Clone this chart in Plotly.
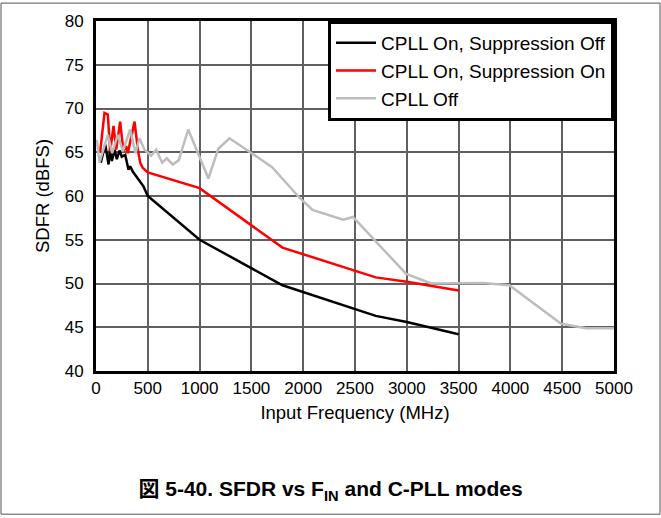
import plotly.graph_objects as go

# ---- data ----
freq_black = [46, 89, 121, 137, 153, 179, 201, 227, 249, 282, 314, 330, 355, 458, 500, 1000, 1800, 2700, 3000, 3500]
sfdr_black = [63.8, 65.9, 63.6, 65.5, 64.0, 65.3, 64.2, 65.2, 64.5, 64.7, 63.0, 63.4, 62.8, 61.1, 60.0, 55.0, 49.8, 46.3, 45.6, 44.2]

freq_red = [40, 82, 114, 137, 169, 195, 233, 265, 291, 307, 372, 404, 427, 452, 500, 1000, 1800, 2700, 3000, 3500]
sfdr_red = [65.0, 69.5, 69.3, 65.1, 68.0, 65.3, 68.5, 65.1, 65.7, 64.9, 68.5, 65.3, 63.8, 63.2, 62.7, 60.9, 54.1, 50.7, 50.2, 49.2]

freq_gray = [8, 34, 114, 156, 210, 259, 330, 381, 420, 468, 533, 581, 639, 683, 741, 799, 890, 1085, 1180, 1289,
             1700, 1770, 1964, 2090, 2385, 2480, 2994, 3236, 3500, 3734, 3990, 4490, 4732, 5000]
sfdr_gray = [66.4, 63.8, 67.0, 64.9, 67.0, 65.1, 67.6, 64.9, 66.6, 65.3, 64.6, 65.3, 63.8, 64.3, 63.6, 64.1, 67.6, 62.0, 65.4, 66.6,
             63.3, 62.4, 59.8, 58.4, 57.3, 57.6, 51.1, 50.0, 50.0, 50.05, 49.8, 45.4, 44.9, 44.9]

series_names = ["CPLL On, Suppression Off", "CPLL On, Suppression On", "CPLL Off"]
x_ticks = [0, 500, 1000, 1500, 2000, 2500, 3000, 3500, 4000, 4500, 5000]
y_ticks = [40, 45, 50, 55, 60, 65, 70, 75, 80]

FONT = "Liberation Sans, Arial, Noto Sans CJK JP, sans-serif"
W, H = 661, 518
L, R, T, B = 96, 47, 19, 147
PW, PH = W - L - R, H - T - B

fig = go.Figure()
fig.add_trace(go.Scatter(x=freq_black, y=sfdr_black, mode="lines", name=series_names[0],
                         line=dict(color="black", width=2.5)))
fig.add_trace(go.Scatter(x=freq_red, y=sfdr_red, mode="lines", name=series_names[1],
                         line=dict(color="#ff0000", width=2.5)))
fig.add_trace(go.Scatter(x=freq_gray, y=sfdr_gray, mode="lines", name=series_names[2],
                         line=dict(color="#bdbdbd", width=2.5)))

fig.update_layout(
    width=W, height=H,
    margin=dict(l=L, r=R, t=T, b=B),
    paper_bgcolor="white", plot_bgcolor="white",
    font=dict(family=FONT, size=17, color="black"),
    showlegend=True,
    legend=dict(x=1, y=1, xanchor="right", yanchor="top",
                bgcolor="white", bordercolor="black", borderwidth=3,
                font=dict(size=19), tracegroupgap=0, itemwidth=40),
    title=dict(text="<b>図 5-40. SFDR vs F<sub>IN</sub> and C-PLL modes</b>",
               x=0.5, xanchor="center", y=1 - 489 / H, yanchor="middle",
               font=dict(size=21, family=FONT)),
    shapes=[dict(type="rect", xref="paper", yref="paper",
                 x0=(1 - L) / PW, x1=(660 - L) / PW,
                 y0=(H - B - 515) / PH, y1=(H - B - 1) / PH,
                 line=dict(color="#555555", width=1), layer="below")],
)

fig.update_xaxes(range=[0, 5000], tickvals=x_ticks, showgrid=True, gridcolor="#606060", gridwidth=1.5,
                 showline=True, linecolor="black", linewidth=3, mirror=True, zeroline=False,
                 ticks="", tickfont=dict(size=17),
                 title=dict(text="Input Frequency (MHz)", standoff=9, font=dict(size=18.5)))
fig.update_yaxes(range=[40, 80], tickvals=y_ticks, showgrid=True, gridcolor="#606060", gridwidth=1.5,
                 showline=True, linecolor="black", linewidth=3, mirror=True, zeroline=False,
                 ticks="", tickfont=dict(size=17), ticklabelstandoff=6,
                 title=dict(text="SDFR (dBFS)", standoff=11, font=dict(size=18.5)))

fig.write_html("out.html", config={"displayModeBar": False},
               post_script="document.body.style.margin='0px';")
